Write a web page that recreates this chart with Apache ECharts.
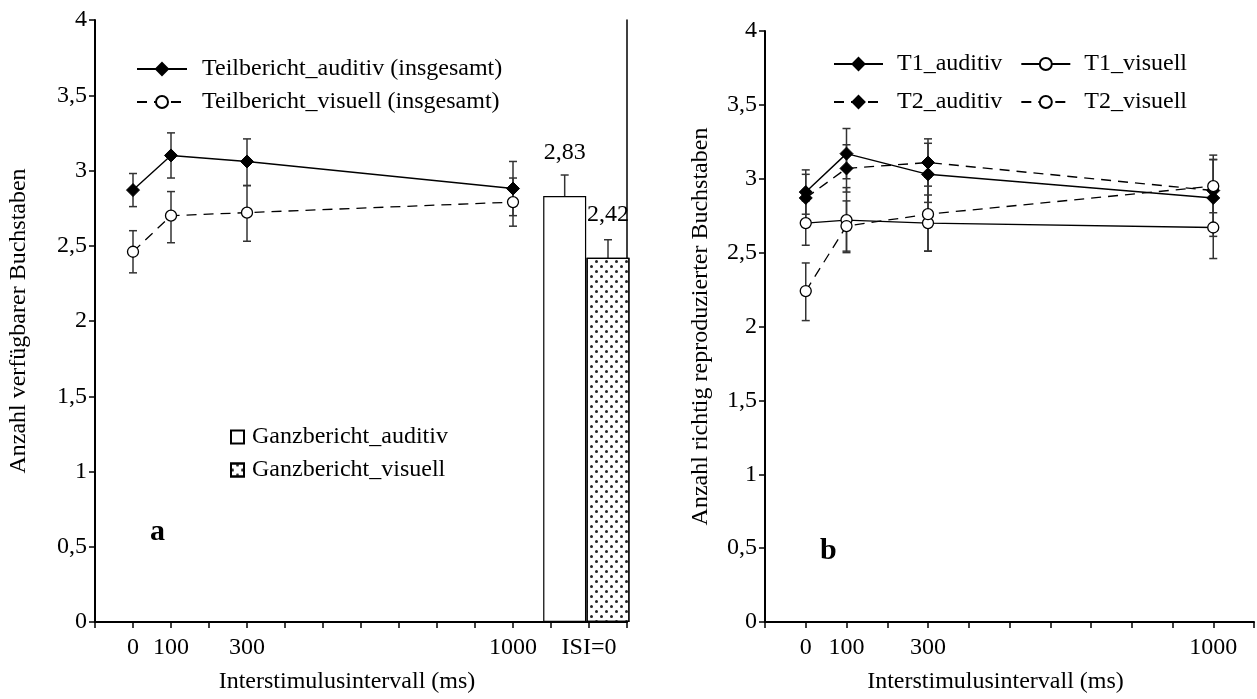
<!DOCTYPE html>
<html>
<head>
<meta charset="utf-8">
<script src="https://cdn.jsdelivr.net/npm/echarts@6/dist/echarts.min.js"></script>
<style>
  html, body { margin: 0; padding: 0; background: #fff; }
  #chart { width: 1257px; height: 699px; }
</style>
</head>
<body>
<div id="chart"></div>
<script>
  // panel a: Teilbericht (Linien) + Ganzbericht (Balken)
  var isiA = [0, 100, 300, 1000];
  var audA = [2.87, 3.10, 3.06, 2.88];
  var audLoA = [2.76, 2.95, 2.90, 2.70];
  var audHiA = [2.98, 3.25, 3.21, 3.06];
  var visA = [2.46, 2.70, 2.72, 2.79];
  var visLoA = [2.32, 2.52, 2.53, 2.63];
  var visHiA = [2.60, 2.86, 2.90, 2.95];

  var ganzX = [1136, 1250];
  var ganzVal = [2.83, 2.42];
  var ganzLo = [2.66, 2.27];
  var ganzHi = [2.97, 2.54];

  var tickLabelsA = { '0': '0', '100': '100', '300': '300', '1000': '1000', '1200': 'ISI=0' };

  // panel b: T1 / T2
  var isiB = [0, 100, 300, 1000];
  var t1Aud = [2.91, 3.17, 3.03, 2.87];
  var t1AudLo = [2.76, 3.00, 2.84, 2.61];
  var t1AudHi = [3.06, 3.34, 3.24, 3.13];
  var t2Aud = [2.87, 3.07, 3.11, 2.92];
  var t2AudLo = [2.71, 2.91, 2.95, 2.68];
  var t2AudHi = [3.03, 3.23, 3.27, 3.16];
  var t1Vis = [2.70, 2.72, 2.70, 2.67];
  var t1VisLo = [2.55, 2.50, 2.51, 2.46];
  var t1VisHi = [2.85, 2.94, 2.89, 2.88];
  var t2Vis = [2.24, 2.68, 2.76, 2.95];
  var t2VisLo = [2.04, 2.51, 2.51, 2.77];
  var t2VisHi = [2.43, 2.85, 3.01, 3.13];

  var tickLabelsB = { '0': '0', '100': '100', '300': '300', '1000': '1000' };

  var FONT = '"Liberation Serif", "Times New Roman", serif';

  function zip(xs, ys) {
    return xs.map(function (x, i) { return [x, ys[i]]; });
  }
  function zip3(xs, lo, hi) {
    return xs.map(function (x, i) { return [x, lo[i], hi[i]]; });
  }

  // fehlerbalken mit kappen
  function errItem(params, api) {
    var x = api.value(0);
    var lo = api.coord([x, api.value(1)]);
    var hi = api.coord([x, api.value(2)]);
    var w = 4;
    var st = { stroke: '#333', lineWidth: 1.5 };
    return {
      type: 'group',
      children: [
        { type: 'line', shape: { x1: lo[0], y1: lo[1], x2: hi[0], y2: hi[1] }, style: st },
        { type: 'line', shape: { x1: lo[0] - w, y1: lo[1], x2: lo[0] + w, y2: lo[1] }, style: st },
        { type: 'line', shape: { x1: hi[0] - w, y1: hi[1], x2: hi[0] + w, y2: hi[1] }, style: st }
      ]
    };
  }
  function errSeries(data, xi) {
    return {
      type: 'custom', xAxisIndex: xi, yAxisIndex: xi === 0 ? 0 : 2,
      renderItem: errItem, data: data, z: 1, silent: true
    };
  }

  function diamondLine(name, data, xi, dashed) {
    return {
      name: name, type: 'line', xAxisIndex: xi, yAxisIndex: xi === 0 ? 0 : 2,
      data: data, symbol: 'diamond', symbolSize: 13, z: 3,
      lineStyle: { color: '#000', width: 1.4, type: dashed ? [10, 7] : 'solid' },
      itemStyle: { color: '#000', borderColor: '#000', borderWidth: 1 }
    };
  }
  function circleLine(name, data, xi, dashed) {
    return {
      name: name, type: 'line', xAxisIndex: xi, yAxisIndex: xi === 0 ? 0 : 2,
      data: data, symbol: 'circle', symbolSize: 11, z: 3,
      lineStyle: { color: '#000', width: 1.3, type: dashed ? [10, 7] : 'solid' },
      itemStyle: { color: '#fff', borderColor: '#000', borderWidth: 1.3 }
    };
  }

  var axisLineStyle = { show: true, onZero: false, lineStyle: { color: '#000', width: 2 } };
  var tickStyle = { show: true, inside: false, length: 6, lineStyle: { color: '#000', width: 1.5 } };
  var labelText = { fontFamily: FONT, fontSize: 24, color: '#000' };
  var titleText = { fontFamily: FONT, fontSize: 24, color: '#000' };

  function yLabel(v) { return String(v).replace('.', ','); }

  var dots = {
    symbol: 'circle', symbolSize: 1, color: '#222',
    dashArrayX: [[2.6, 6.4], [0, 4.5, 2.6, 1.9]],
    dashArrayY: [2.6, 2]
  };

  var chart = echarts.init(document.getElementById('chart'));
  chart.setOption({
    animation: false,
    backgroundColor: '#fff',
    textStyle: { fontFamily: FONT },
    grid: [
      { left: 95, top: 20, width: 532, height: 608 },
      { left: 765, top: 31, width: 493, height: 592 }
    ],
    xAxis: [
      {
        type: 'value', gridIndex: 0, min: -100, max: 1300, interval: 100,
        axisLine: axisLineStyle, axisTick: tickStyle, splitLine: { show: false },
        axisLabel: Object.assign({ margin: 14, formatter: function (v) { return tickLabelsA[v] || ''; } }, labelText),
        name: 'Interstimulusintervall (ms)', nameLocation: 'middle', nameGap: 48,
        nameTextStyle: Object.assign({ padding: [0, 28, 0, 0] }, titleText)
      },
      {
        type: 'value', gridIndex: 1, min: -100, max: 1100, interval: 100,
        axisLine: axisLineStyle, axisTick: tickStyle, splitLine: { show: false },
        axisLabel: Object.assign({ margin: 14, formatter: function (v) { return tickLabelsB[v] || ''; } }, labelText),
        name: 'Interstimulusintervall (ms)', nameLocation: 'middle', nameGap: 48,
        nameTextStyle: Object.assign({ padding: [0, 28, 0, 0] }, titleText)
      }
    ],
    yAxis: [
      {
        type: 'value', gridIndex: 0, min: 0, max: 4, interval: 0.5,
        axisLine: axisLineStyle, axisTick: tickStyle, splitLine: { show: false },
        axisLabel: Object.assign({ margin: 8, formatter: yLabel }, labelText),
        name: 'Anzahl verfügbarer Buchstaben', nameLocation: 'middle', nameGap: 64, nameRotate: 90,
        nameTextStyle: titleText
      },
      {
        type: 'value', gridIndex: 0, position: 'right', min: 0, max: 4,
        axisLine: { show: true, onZero: false, lineStyle: { color: '#000', width: 1.5 } },
        axisTick: { show: false }, axisLabel: { show: false }, splitLine: { show: false }
      },
      {
        type: 'value', gridIndex: 1, min: 0, max: 4, interval: 0.5,
        axisLine: axisLineStyle, axisTick: tickStyle, splitLine: { show: false },
        axisLabel: Object.assign({ margin: 8, formatter: yLabel }, labelText),
        name: 'Anzahl richtig reproduzierter Buchstaben', nameLocation: 'middle', nameGap: 52, nameRotate: 90,
        nameTextStyle: titleText
      }
    ],
    legend: [
      {
        orient: 'vertical', left: 131, top: 52, itemWidth: 50, itemHeight: 15, itemGap: 9,
        data: ['Teilbericht_auditiv (insgesamt)', 'Teilbericht_visuell (insgesamt)'],
        textStyle: { fontFamily: FONT, fontSize: 24, color: '#000', padding: [0, 0, 0, 10] }
      },
      {
        orient: 'vertical', left: 225, top: 420, itemWidth: 13, itemHeight: 13, itemGap: 9, icon: 'rect',
        data: ['Ganzbericht_auditiv', 'Ganzbericht_visuell'],
        textStyle: { fontFamily: FONT, fontSize: 24, color: '#000', padding: [0, 0, 0, 3] }
      },
      {
        orient: 'horizontal', left: 828, top: 47, itemWidth: 49, itemHeight: 15, itemGap: 18,
        data: ['T1_auditiv', 'T1_visuell'],
        textStyle: { fontFamily: FONT, fontSize: 24, color: '#000', padding: [0, 0, 0, 9] }
      },
      {
        orient: 'horizontal', left: 828, top: 85, itemWidth: 49, itemHeight: 15, itemGap: 18,
        data: ['T2_auditiv', 'T2_visuell'],
        textStyle: { fontFamily: FONT, fontSize: 24, color: '#000', padding: [0, 0, 0, 9] }
      }
    ],
    graphic: [
      { type: 'text', left: 150, top: 517, style: { text: 'a', font: 'bold 30px ' + FONT, fill: '#000' } },
      { type: 'text', left: 820, top: 536, style: { text: 'b', font: 'bold 30px ' + FONT, fill: '#000' } }
    ],
    series: [
      {
        name: 'Ganzbericht_auditiv', type: 'bar', xAxisIndex: 0, yAxisIndex: 0,
        data: [[ganzX[0], ganzVal[0]]], barWidth: 43, barGap: '-100%', z: 2,
        itemStyle: { color: '#fff', borderColor: '#000', borderWidth: 1.2 },
        label: { show: true, position: 'top', distance: 31, fontFamily: FONT, fontSize: 24, color: '#000',
          formatter: function (p) { return p.value[1].toFixed(2).replace('.', ','); } }
      },
      {
        name: 'Ganzbericht_visuell', type: 'bar', xAxisIndex: 0, yAxisIndex: 0,
        data: [[ganzX[1], ganzVal[1]]], barWidth: 43, barGap: '-100%', z: 2,
        itemStyle: { color: '#fff', borderColor: '#000', borderWidth: 1.2, decal: dots },
        label: { show: true, position: 'top', distance: 31, fontFamily: FONT, fontSize: 24, color: '#000',
          formatter: function (p) { return p.value[1].toFixed(2).replace('.', ','); } }
      },
      errSeries(zip3(ganzX, ganzLo, ganzHi), 0),
      errSeries(zip3(isiA, audLoA, audHiA), 0),
      errSeries(zip3(isiA, visLoA, visHiA), 0),
      diamondLine('Teilbericht_auditiv (insgesamt)', zip(isiA, audA), 0, false),
      circleLine('Teilbericht_visuell (insgesamt)', zip(isiA, visA), 0, true),

      errSeries(zip3(isiB, t1AudLo, t1AudHi), 1),
      errSeries(zip3(isiB, t2AudLo, t2AudHi), 1),
      errSeries(zip3(isiB, t1VisLo, t1VisHi), 1),
      errSeries(zip3(isiB, t2VisLo, t2VisHi), 1),
      diamondLine('T1_auditiv', zip(isiB, t1Aud), 1, false),
      circleLine('T1_visuell', zip(isiB, t1Vis), 1, false),
      diamondLine('T2_auditiv', zip(isiB, t2Aud), 1, true),
      circleLine('T2_visuell', zip(isiB, t2Vis), 1, true)
    ]
  });
</script>
</body>
</html>
